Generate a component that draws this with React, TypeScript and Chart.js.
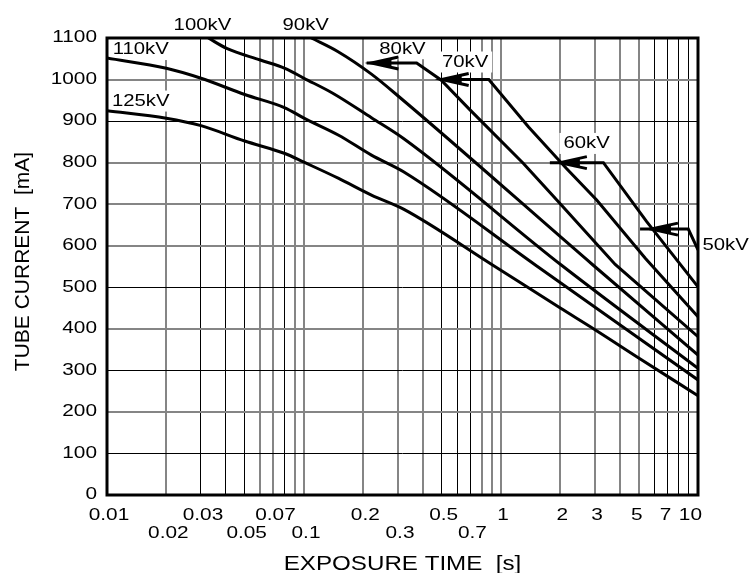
import React, { useEffect, useRef } from "react";
import { Chart, registerables } from "chart.js";

Chart.register(...registerables);

// ---------- axis values ----------
const xGridTicks = [
  0.01, 0.02, 0.03, 0.04, 0.05, 0.06, 0.07, 0.08, 0.09,
  0.1, 0.2, 0.3, 0.4, 0.5, 0.6, 0.7, 0.8, 0.9,
  1, 2, 3, 4, 5, 6, 7, 8, 9, 10,
];
const xTopLabels = ["0.01", "0.03", "0.07", "0.2", "0.5", "1", "2", "3", "5", "7", "10"];
const xBottomLabels = ["0.02", "0.05", "0.1", "0.3", "0.7"];
const yTickValues = [0, 100, 200, 300, 400, 500, 600, 700, 800, 900, 1000, 1100];
const darkXGrid = [0.03, 0.04, 0.05, 0.08, 0.5, 0.6, 0.7, 6, 7, 8, 9];
const darkYGrid = [100, 300, 500, 900];

const xTitle = "EXPOSURE TIME  [s]";
const yTitle = "TUBE CURRENT  [mA]";

// ---------- series (exposure time [s], tube current [mA]) ----------
const kv125Time = [0.01, 0.02, 0.03, 0.05, 0.08, 0.1, 0.15, 0.22, 0.32, 0.91, 2, 3, 5, 10];
const kv125Current = [925, 907, 889, 852, 822, 801, 762, 722, 688, 553, 450, 398, 330, 239];

const kv110Time = [0.01, 0.02, 0.03, 0.05, 0.08, 0.1, 0.15, 0.22, 0.32, 1.5, 10];
const kv110Current = [1052, 1027, 1003, 964, 932, 907, 866, 818, 778, 553, 277];

const kv100Time = [0.0327, 0.0405, 0.06, 0.08, 0.1, 0.14, 0.22, 0.32, 2.03, 10];
const kv100Current = [1100, 1075, 1047, 1027, 1003, 967, 908, 858, 553, 305];

const kv90Time = [0.109, 0.149, 0.22, 0.31, 2.94, 10];
const kv90Current = [1100, 1067, 1013, 955, 553, 337];

const kv80Time = [0.208, 0.373, 0.496, 0.696, 1.3, 1.92, 3.8, 10];
const kv80Current = [1040, 1040, 999, 927, 798, 710, 555, 381];

const kv70Time = [0.496, 0.867, 1.38, 2.15, 3.06, 5.4, 10];
const kv70Current = [1000, 1000, 886, 786, 710, 570, 429];

const kv60Time = [1.77, 3.31, 5.49, 10];
const kv60Current = [800, 800, 658, 501];

const kv50Time = [5.08, 8.93, 10];
const kv50Current = [640, 640, 590];

const seriesNames = ["125kV", "110kV", "100kV", "90kV", "80kV", "70kV", "60kV", "50kV"];
const seriesTimes = [kv125Time, kv110Time, kv100Time, kv90Time, kv80Time, kv70Time, kv60Time, kv50Time];
const seriesCurrents = [kv125Current, kv110Current, kv100Current, kv90Current, kv80Current, kv70Current, kv60Current, kv50Current];
const smoothSeries = ["125kV", "110kV", "100kV", "90kV"];

// arrows on the flat (current-limited) parts
const arrowSeries = ["80kV", "70kV", "60kV", "50kV"];
const arrowTipTime = [0.22, 0.5, 1.99, 5.77];

// kV labels anchored in data units
const labelText = ["100kV", "90kV", "110kV", "125kV", "80kV", "70kV", "60kV", "50kV"];
const labelTime = [0.0305, 0.102, 0.01484, 0.01484, 0.316, 0.657, 2.72, 13.8];
const labelCurrent = [1131, 1131, 1071, 947, 1073, 1041, 845, 600];
const labelBoxed = [false, false, true, true, true, true, true, false];

const FONT = '"Liberation Sans", Arial, Helvetica, sans-serif';

function drawStretched(ctx: CanvasRenderingContext2D, text: string, x: number, y: number, sx: number, align: CanvasTextAlign) {
  ctx.save();
  ctx.translate(x, y);
  ctx.scale(sx, 1);
  ctx.textAlign = align;
  ctx.fillText(text, 0, 0);
  ctx.restore();
}

const decorPlugin = {
  id: "decor",
  beforeDatasetsDraw(chart: any) {
    const ctx: CanvasRenderingContext2D = chart.ctx;
    const xs = chart.scales.x;
    const ys = chart.scales.y;
    ctx.save();
    ctx.font = `16px ${FONT}`;
    ctx.textBaseline = "middle";
    labelText.forEach((t, i) => {
      const px = xs.getPixelForValue(labelTime[i]);
      const py = ys.getPixelForValue(labelCurrent[i]);
      const w = ctx.measureText(t).width * 1.27;
      if (labelBoxed[i]) {
        ctx.fillStyle = "#ffffff";
        ctx.fillRect(px - w / 2 - 4, py - 11, w + 8, 21);
      }
    });
    ctx.restore();
  },
  afterDatasetsDraw(chart: any) {
    const ctx: CanvasRenderingContext2D = chart.ctx;
    const xs = chart.scales.x;
    const ys = chart.scales.y;
    const area = chart.chartArea;

    // arrow heads
    ctx.save();
    ctx.strokeStyle = "#000";
    ctx.fillStyle = "#000";
    ctx.lineWidth = 3;
    ctx.lineJoin = "miter";
    arrowSeries.forEach((name, i) => {
      const idx = seriesNames.indexOf(name);
      const level = seriesCurrents[idx][0];
      const tip = xs.getPixelForValue(arrowTipTime[i]);
      const py = ys.getPixelForValue(level);
      ctx.beginPath();
      ctx.moveTo(tip + 27, py - 6);
      ctx.lineTo(tip, py);
      ctx.lineTo(tip + 27, py + 6);
      ctx.stroke();
      ctx.beginPath();
      ctx.moveTo(tip, py);
      ctx.lineTo(tip + 20, py - 4);
      ctx.lineTo(tip + 20, py + 4);
      ctx.closePath();
      ctx.fill();
    });
    ctx.restore();

    // frame
    ctx.save();
    ctx.strokeStyle = "#000";
    ctx.lineWidth = 3;
    ctx.strokeRect(area.left, area.top, area.right - area.left, area.bottom - area.top);
    ctx.restore();

    // kV labels
    ctx.save();
    ctx.fillStyle = "#000";
    ctx.font = `16px ${FONT}`;
    ctx.textBaseline = "middle";
    labelText.forEach((t, i) => {
      const px = xs.getPixelForValue(labelTime[i]);
      const py = ys.getPixelForValue(labelCurrent[i]);
      drawStretched(ctx, t, px, py, 1.27, "center");
    });
    ctx.restore();

    // y tick labels
    ctx.save();
    ctx.fillStyle = "#000";
    ctx.font = `16px ${FONT}`;
    ctx.textBaseline = "middle";
    yTickValues.forEach((v) => {
      drawStretched(ctx, String(v), area.left - 10, ys.getPixelForValue(v), 1.3, "right");
    });
    // x tick labels (two rows)
    ctx.textBaseline = "alphabetic";
    const placeX = (label: string, baseY: number) => {
      const value = parseFloat(label);
      const px = xs.getPixelForValue(value);
      const w = ctx.measureText(label).width * 1.3;
      let cx = value >= 5 ? px - 2 : px + 2;
      if (cx + w / 2 > area.right + 4) cx = area.right + 4 - w / 2;
      drawStretched(ctx, label, cx, baseY, 1.3, "center");
    };
    xTopLabels.forEach((l) => placeX(l, area.bottom + 25));
    xBottomLabels.forEach((l) => placeX(l, area.bottom + 43));

    // axis titles
    ctx.font = `21px ${FONT}`;
    drawStretched(ctx, xTitle, (area.left + area.right) / 2, area.bottom + 75, 1.15, "center");
    ctx.save();
    ctx.translate(area.left - 78.5, (area.top + area.bottom) / 2 - 5);
    ctx.rotate(-Math.PI / 2);
    ctx.textAlign = "center";
    ctx.fillText(yTitle, 0, 0);
    ctx.restore();
    ctx.restore();
  },
};

export default function App() {
  const canvasRef = useRef<HTMLCanvasElement | null>(null);

  useEffect(() => {
    const canvas = canvasRef.current;
    if (!canvas) return;
    const datasets = seriesNames.map((name, i) => ({
      label: name,
      data: seriesTimes[i].map((t, j) => ({ x: t, y: seriesCurrents[i][j] })),
      borderColor: "#000",
      backgroundColor: "#000",
      borderWidth: 3,
      pointRadius: 0,
      tension: 0,
      cubicInterpolationMode: smoothSeries.includes(name) ? ("monotone" as const) : ("default" as const),
      fill: false,
      borderJoinStyle: "miter" as const,
    }));

    const chart = new Chart(canvas, {
      type: "line",
      data: { datasets },
      options: {
        animation: false,
        responsive: false,
        devicePixelRatio: 1,
        layout: { padding: { left: 107, top: 38, right: 53, bottom: 78 } },
        plugins: {
          legend: { display: false },
          tooltip: { enabled: false },
          title: { display: false },
        },
        scales: {
          x: {
            type: "logarithmic",
            min: 0.01,
            max: 10,
            afterBuildTicks: (scale: any) => {
              scale.ticks = xGridTicks.map((v) => ({ value: v }));
            },
            ticks: { display: false, autoSkip: false },
            grid: {
              drawTicks: false,
              color: (c: any) => (darkXGrid.includes(c.tick?.value) ? "#000" : "#858585"),
              lineWidth: (c: any) => (darkXGrid.includes(c.tick?.value) ? 1 : 2),
            },
            border: { display: false },
          },
          y: {
            type: "linear",
            min: 0,
            max: 1100,
            afterBuildTicks: (scale: any) => {
              scale.ticks = yTickValues.map((v) => ({ value: v }));
            },
            ticks: { display: false },
            grid: {
              drawTicks: false,
              color: (c: any) => (darkYGrid.includes(c.tick?.value) ? "#000" : "#858585"),
              lineWidth: (c: any) => (darkYGrid.includes(c.tick?.value) ? 1 : 2),
            },
            border: { display: false },
          },
        },
      },
      plugins: [decorPlugin],
    });
    return () => chart.destroy();
  }, []);

  return (
    <div style={{ position: "fixed", left: 0, top: 0, width: 751, height: 573, background: "#fff" }}>
      <canvas ref={canvasRef} width={751} height={573} style={{ display: "block" }} />
    </div>
  );
}
